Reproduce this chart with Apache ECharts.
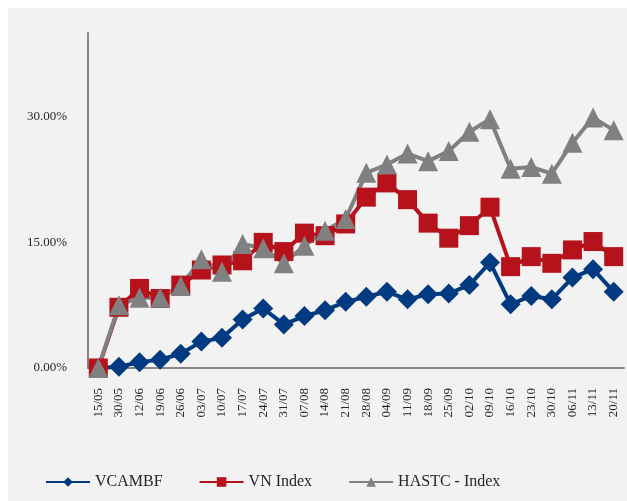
<!DOCTYPE html>
<html>
<head>
<meta charset="utf-8">
<script src="https://cdn.jsdelivr.net/npm/echarts@6/dist/echarts.min.js"></script>
<style>
  html, body { margin: 0; padding: 0; background: #ffffff; }
  #chart { position: absolute; left: 8px; top: 8px; width: 619px; height: 493px; background: #f2f2f2; }
</style>
</head>
<body>
<div id="chart"></div>
<script>
const categories = ['15/05', '30/05', '12/06', '19/06', '26/06', '03/07', '10/07', '17/07', '24/07', '31/07',
  '07/08', '14/08', '21/08', '28/08', '04/09', '11/09', '18/09', '25/09', '02/10', '09/10',
  '16/10', '23/10', '30/10', '06/11', '13/11', '20/11']

// values in percent
const vcambf = [0, 0.15, 0.7, 1.0, 1.7, 3.15, 3.6, 5.8, 7.1, 5.2,
  6.2, 6.9, 7.9, 8.5, 9.1, 8.2, 8.8, 8.9, 9.9, 12.6,
  7.6, 8.6, 8.2, 10.8, 11.8, 9.1]
const vnIndex = [0, 7.25, 9.5, 8.3, 9.9, 11.7, 12.3, 12.8, 15.0, 13.9,
  16.1, 15.8, 17.2, 20.4, 22.1, 20.1, 17.3, 15.5, 17.0, 19.2,
  12.1, 13.3, 12.5, 14.1, 15.1, 13.3]
const hastc = [0, 7.5, 8.4, 8.4, 9.8, 13.0, 11.5, 14.8, 14.3, 12.5,
  14.6, 16.4, 17.8, 23.3, 24.3, 25.6, 24.7, 25.9, 28.2, 29.7,
  23.8, 24.0, 23.2, 26.9, 29.9, 28.4]

const yTicks = [0, 15, 30]

const chart = echarts.init(document.getElementById('chart'))

const fontFamily = '"Liberation Serif", "DejaVu Serif", serif'

const makeSeries = (name, data, color, symbol, size) => ({
  name: name,
  type: 'line',
  data: data,
  symbol: symbol,
  symbolSize: size,
  lineStyle: { color: color, width: 4 },
  itemStyle: { color: color },
  animation: false
})

chart.setOption({
  backgroundColor: '#f2f2f2',
  textStyle: { fontFamily: fontFamily },
  grid: { left: 80, right: 3, top: 25, bottom: 133 },
  xAxis: {
    type: 'category',
    data: categories,
    boundaryGap: true,
    axisLine: { lineStyle: { color: '#868686', width: 2 } },
    axisTick: { show: false },
    axisLabel: { rotate: 90, fontSize: 13, color: '#262626', margin: 20, interval: 0, fontFamily: fontFamily }
  },
  yAxis: {
    type: 'value',
    min: 0,
    max: 40,
    interval: 15,
    axisLine: { show: true, lineStyle: { color: '#868686', width: 2 } },
    axisTick: { show: false },
    splitLine: { show: false },
    axisLabel: {
      color: '#262626',
      fontSize: 13,
      margin: 21,
      fontFamily: fontFamily,
      formatter: v => (yTicks.includes(v) ? v.toFixed(2) + '%' : '')
    }
  },
  legend: {
    bottom: 6,
    left: 32,
    itemWidth: 44,
    itemHeight: 12,
    itemGap: 36,
    textStyle: { fontSize: 16, color: '#262626', fontFamily: fontFamily },
    data: ['VCAMBF', 'VN Index', 'HASTC - Index']
  },
  series: [
    makeSeries('VCAMBF', vcambf, '#003a80', 'diamond', 20),
    makeSeries('VN Index', vnIndex, '#b5121b', 'rect', 19),
    makeSeries('HASTC - Index', hastc, '#808080', 'triangle', 20)
  ]
})
</script>
</body>
</html>
